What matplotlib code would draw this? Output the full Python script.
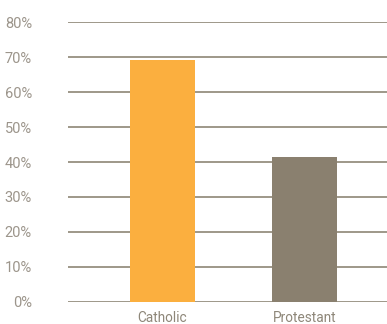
import matplotlib
matplotlib.use("Agg")
import matplotlib.pyplot as plt
from matplotlib.ticker import FuncFormatter

categories = ["Catholic", "Protestant"]
values = [69.2, 41.4]
colors = ["#FBAF3F", "#8A806F"]
yticks = [0, 10, 20, 30, 40, 50, 60, 70, 80]

plt.rcParams['font.family'] = ['Roboto', 'DejaVu Sans']

fig = plt.figure(figsize=(3.87, 3.24), dpi=100)
ax = fig.add_axes([68/387, 1 - 301.7/324, (387-68)/387, 279.4/324])

x = list(range(len(categories)))
ax.bar(x, values, width=0.458, color=colors, zorder=3)

ax.set_ylim(0, 80)
ax.set_xlim(-0.665, 1.58)
ax.set_yticks(yticks)
ax.yaxis.set_major_formatter(FuncFormatter(lambda v, p: f"{int(v)}%"))
ax.grid(axis='y', color='#8E8676', linewidth=1.2, zorder=1)
ax.set_axisbelow(True)
for s in ax.spines.values():
    s.set_visible(False)
ax.set_xticks(x)
ax.set_xticklabels(categories)
ax.tick_params(axis='y', length=0, pad=26, labelsize=10.5, labelcolor='#9C958B')
ax.tick_params(axis='x', length=0, pad=7, labelsize=9.8, labelcolor='#8E8779')

fig.savefig("out.png", dpi=100)
